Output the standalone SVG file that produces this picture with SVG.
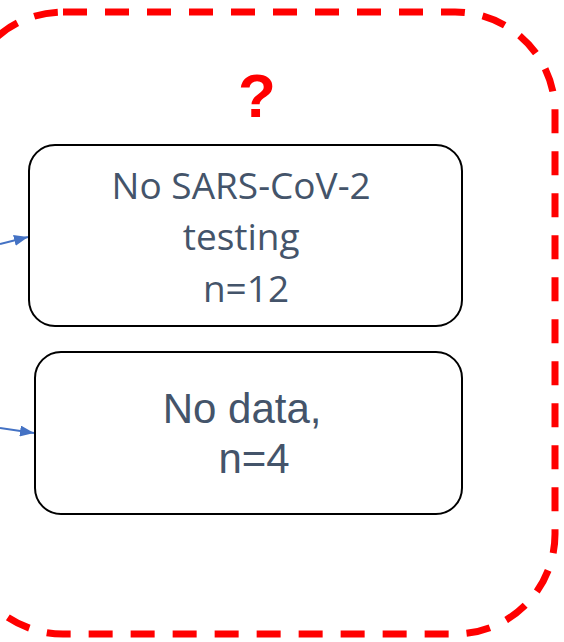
<svg xmlns="http://www.w3.org/2000/svg" width="564" height="642" viewBox="0 0 564 642">
<style>
.box{fill:#fff;stroke:#000;stroke-width:2}
.lbl{fill:#44546A;text-anchor:middle}
.conn{stroke:#4472C4;stroke-width:2;fill:none}
</style>
<defs>
<marker id="ah" viewBox="0 0 10 10" refX="10" refY="5" markerWidth="7" markerHeight="5.5" orient="auto" markerUnits="strokeWidth" preserveAspectRatio="none">
<path d="M0,0 L10,5 L0,10 z" fill="#4472C4"/>
</marker>
</defs>
<g id="group-frame">
<rect x="-37" y="12" width="592" height="622" rx="100" ry="100" fill="none" stroke="#FF0000" stroke-width="7" stroke-dasharray="24 18"/>
<text x="257" y="117" font-family="'Liberation Sans', Arial, sans-serif" font-weight="bold" font-size="62" fill="#FF0000" text-anchor="middle">?</text>
</g>
<g id="connectors">
<line class="conn" x1="0" y1="244" x2="28" y2="237" marker-end="url(#ah)"/>
<line class="conn" x1="0" y1="428" x2="34" y2="433" marker-end="url(#ah)"/>
</g>
<g id="node-no-testing">
<rect class="box" x="29" y="145" width="433" height="181" rx="26" ry="26"/>
<text class="lbl" font-family="'Open Sans', sans-serif" font-size="37">
<tspan x="246" y="199">No SARS-CoV-2</tspan>
<tspan x="246" y="250">testing</tspan>
<tspan x="246" y="302">n=12</tspan>
</text>
</g>
<g id="node-no-data">
<rect class="box" x="35" y="352" width="427" height="162" rx="26" ry="26"/>
<text class="lbl" font-family="'Liberation Sans', Arial, sans-serif" font-size="42">
<tspan x="248" y="423">No data,</tspan>
<tspan x="254" y="473">n=4</tspan>
</text>
</g>
</svg>
